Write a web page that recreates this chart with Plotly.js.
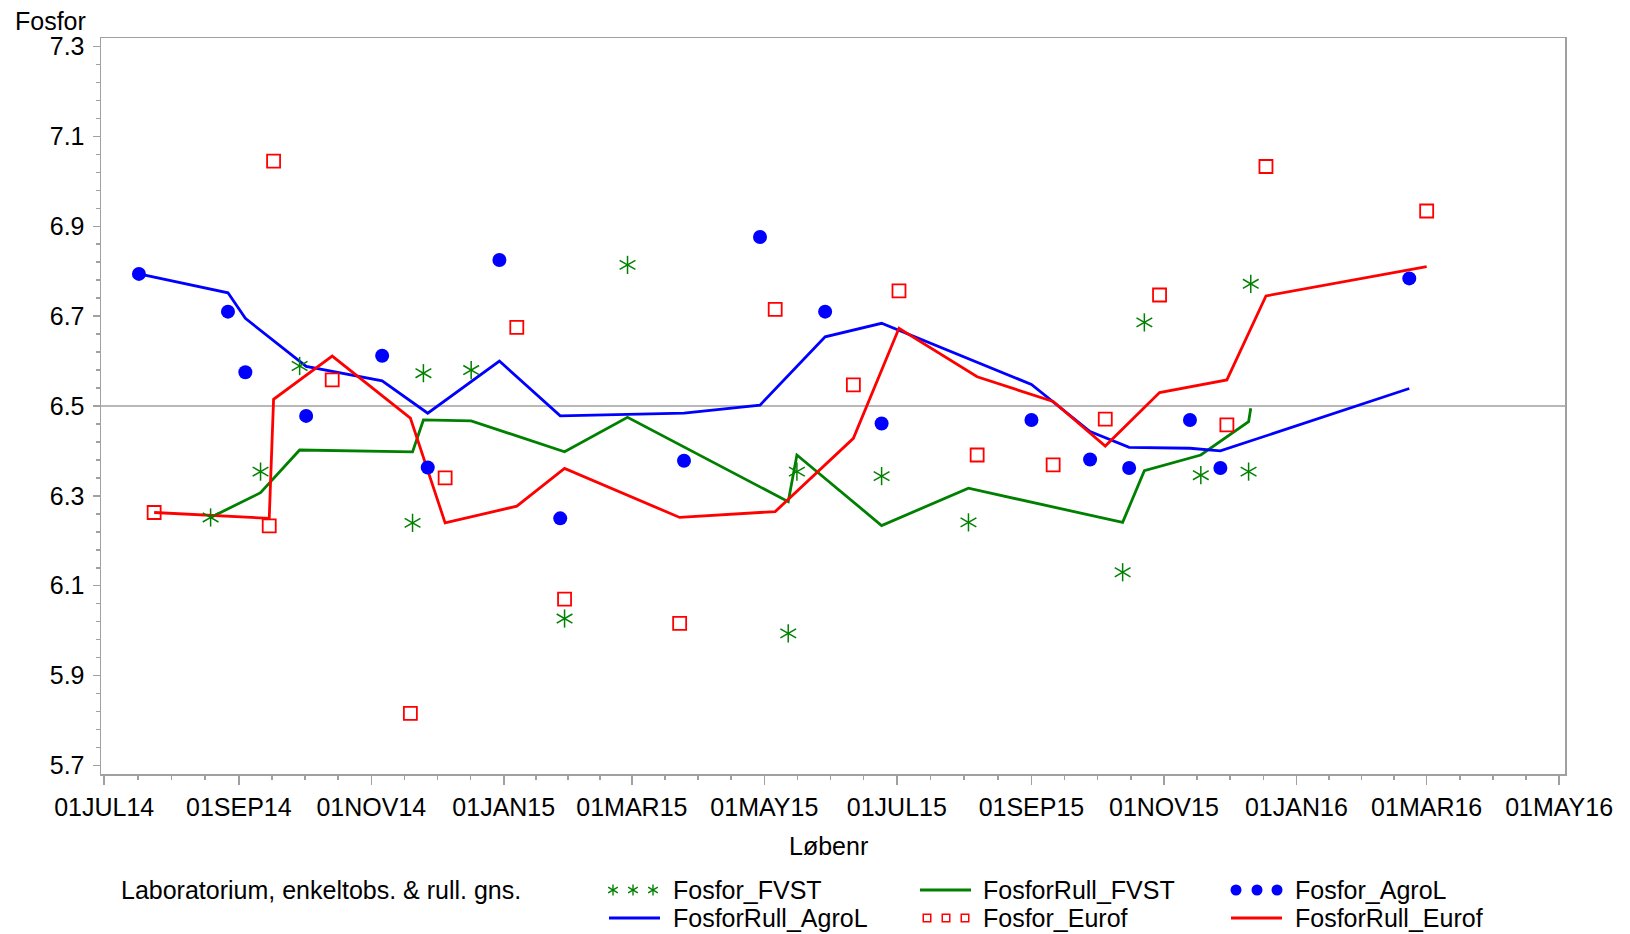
<!DOCTYPE html>
<html><head><meta charset="utf-8">
<script src="https://cdn.plot.ly/plotly-3.0.1.min.js"></script>
<style>html,body{margin:0;padding:0;background:#fff}#chart{width:1630px;height:934px}</style>
</head><body><div id="chart"></div>
<script>
// ---------- data ----------
const agroDates = ['2014-07-17','2014-08-27','2014-09-04','2014-10-02','2014-11-06','2014-11-27','2014-12-30','2015-01-27','2015-03-25','2015-04-29','2015-05-29','2015-06-24','2015-09-01','2015-09-28','2015-10-16','2015-11-13','2015-11-27','2016-02-22'];
const fosforAgroL = [6.794,6.710,6.575,6.478,6.612,6.363,6.825,6.250,6.378,6.876,6.710,6.461,6.469,6.381,6.362,6.469,6.362,6.784];
const fosforRullAgroL = [6.794,6.752,6.695,6.588,6.556,6.484,6.600,6.478,6.484,6.502,6.654,6.684,6.548,6.443,6.408,6.406,6.400,6.539];

const fvstDates = ['2014-08-19','2014-09-11','2014-09-29','2014-11-20','2014-11-25','2014-12-17','2015-01-29','2015-02-27','2015-05-12','2015-05-16','2015-06-24','2015-08-03','2015-10-13','2015-10-23','2015-11-18','2015-12-10','2015-12-11'];
const fosforFVST = [6.252,6.354,6.589,6.240,6.573,6.580,6.027,6.814,5.994,6.354,6.344,6.241,6.130,6.686,6.346,6.354,6.772];
const fosforRullFVST = [6.252,6.307,6.402,6.398,6.469,6.467,6.398,6.475,6.287,6.391,6.234,6.317,6.241,6.356,6.391,6.465,6.495];

const eurofDates = ['2014-07-24','2014-09-15','2014-09-17','2014-10-14','2014-11-19','2014-12-05','2015-01-07','2015-01-29','2015-03-23','2015-05-06','2015-06-11','2015-07-02','2015-08-07','2015-09-11','2015-10-05','2015-10-30','2015-11-30','2015-12-18','2016-03-01'];
const fosforEurof = [6.263,6.233,7.045,6.558,5.816,6.340,6.675,6.070,6.016,6.715,6.547,6.756,6.391,6.369,6.471,6.747,6.458,7.033,6.934];
const fosforRullEurof = [6.263,6.250,6.515,6.611,6.473,6.240,6.277,6.361,6.252,6.265,6.428,6.673,6.565,6.510,6.411,6.530,6.558,6.745,6.810];

const tickDates = ['2014-07-01','2014-09-01','2014-11-01','2015-01-01','2015-03-01','2015-05-01','2015-07-01','2015-09-01','2015-11-01','2016-01-01','2016-03-01','2016-05-01'];
const tickLabels = ['01JUL14','01SEP14','01NOV14','01JAN15','01MAR15','01MAY15','01JUL15','01SEP15','01NOV15','01JAN16','01MAR16','01MAY16'];
const yTicks = [5.7,5.9,6.1,6.3,6.5,6.7,6.9,7.1,7.3];
const refLevel = 6.5;

const legendTitle = 'Laboratorium, enkeltobs. & rull. gns.';
const seriesNames = ['Fosfor_FVST','FosforRull_FVST','Fosfor_AgroL','FosforRull_AgroL','Fosfor_Eurof','FosforRull_Eurof'];

// ---------- styling / layout ----------
const W = 1630, H = 934;
const frame = {l:101, r:1565, t:38, b:774};
const GREEN = '#008000', BLUE = '#0000ff', RED = '#ff0000', GRAY = '#a0a0a0';
const FONT = 'Liberation Sans, Arial, Helvetica, sans-serif';
const FS = 25;

// minor x ticks: 3 equally spaced between consecutive majors
const minorX = [];
for (let i = 0; i < tickDates.length - 1; i++) {
  const a = Date.parse(tickDates[i]), b = Date.parse(tickDates[i+1]);
  for (let k = 1; k <= 3; k++) minorX.push(new Date(a + (b - a) * k / 4).toISOString().slice(0,19).replace('T',' '));
}

function starTraces(x, y, size, xa, ya, lw) {
  const defs = [['line-ns-open',0],['line-ew-open',30],['line-ew-open',-30]];
  return defs.map(d => ({
    type:'scatter', mode:'markers', x:x, y:y, xaxis:xa, yaxis:ya, hoverinfo:'skip', showlegend:false,
    marker:{symbol:d[0], angle:d[1], size:size, color:GREEN, line:{color:GREEN, width:lw}}
  }));
}

const traces = [];
// rolling lines
traces.push({type:'scatter', mode:'lines', name:seriesNames[1], x:fvstDates, y:fosforRullFVST, line:{color:GREEN, width:2.8}});
traces.push({type:'scatter', mode:'lines', name:seriesNames[3], x:agroDates, y:fosforRullAgroL, line:{color:BLUE, width:2.8}});
traces.push({type:'scatter', mode:'lines', name:seriesNames[5], x:eurofDates, y:fosforRullEurof, line:{color:RED, width:2.8}});
// single observations
traces.push(...starTraces(fvstDates, fosforFVST, 13, 'x', 'y', 1.5));
traces.push({type:'scatter', mode:'markers', name:seriesNames[2], x:agroDates, y:fosforAgroL, marker:{symbol:'circle', size:14, color:BLUE}});
traces.push({type:'scatter', mode:'markers', name:seriesNames[4], x:eurofDates, y:fosforEurof, marker:{symbol:'square-open', size:13, color:RED, line:{color:RED, width:1.8}}});

// ---------- legend (drawn on a pixel-scaled helper axis below the plot) ----------
const row1 = 890, row2 = 918;
const legTop = 862;
const lx = [609, 920, 1231];           // swatch start x for the three columns
const swW = 51;                         // swatch width
const textX = [671, 981, 1293];
const trio = (x0, a, b, c) => [x0 + a, x0 + b, x0 + c];
const legRows = [
  {col:0, row:row1, kind:'star'}, {col:1, row:row1, kind:'line', color:GREEN}, {col:2, row:row1, kind:'dot'},
  {col:0, row:row2, kind:'line', color:BLUE}, {col:1, row:row2, kind:'square'}, {col:2, row:row2, kind:'line', color:RED}
];
const shapes = [{type:'line', xref:'x domain', x0:0, x1:1, yref:'y', y0:refLevel, y1:refLevel, line:{color:GRAY, width:1.5}, layer:'below'}];
const annotations = [
  {text:'Fosfor', xref:'paper', yref:'paper', x:13/W, y:1-21/H, xanchor:'left', yanchor:'middle', showarrow:false, font:{size:FS}},
  {text:'Løbenr', xref:'paper', yref:'paper', x:829/W, y:1-846/H, xanchor:'center', yanchor:'middle', showarrow:false, font:{size:FS}},
  {text:legendTitle, xref:'paper', yref:'paper', x:119/W, y:1-row1/H, xanchor:'left', yanchor:'middle', showarrow:false, font:{size:FS}}
];
legRows.forEach((e, i) => {
  const x0 = lx[e.col];
  annotations.push({text:seriesNames[i], xref:'paper', yref:'paper', x:textX[e.col]/W, y:1-e.row/H, xanchor:'left', yanchor:'middle', showarrow:false, font:{size:FS}});
  const ys = [e.row, e.row, e.row];
  if (e.kind === 'line') {
    shapes.push({type:'line', xref:'x2', yref:'y2', x0:x0, x1:x0+swW, y0:e.row, y1:e.row, line:{color:e.color, width:3.2}});
  } else if (e.kind === 'star') {
    traces.push(...starTraces(trio(x0, 4, 24, 44), ys, 8, 'x2', 'y2', 1.4));
  } else if (e.kind === 'dot') {
    traces.push({type:'scatter', mode:'markers', x:trio(x0, 5, 26, 46), y:ys, xaxis:'x2', yaxis:'y2', hoverinfo:'skip', showlegend:false, marker:{symbol:'circle', size:11, color:BLUE}});
  } else if (e.kind === 'square') {
    traces.push({type:'scatter', mode:'markers', x:trio(x0, 7, 26, 45), y:ys, xaxis:'x2', yaxis:'y2', hoverinfo:'skip', showlegend:false, marker:{symbol:'square-open', size:7.5, color:RED, line:{color:RED, width:1.5}}});
  }
});

const layout = {
  width:W, height:H, margin:{l:0, r:0, t:0, b:0},
  paper_bgcolor:'#ffffff', plot_bgcolor:'rgba(0,0,0,0)', showlegend:false,
  font:{family:FONT, size:FS, color:'#000000'},
  xaxis:{
    type:'date', domain:[frame.l/W, frame.r/W], anchor:'y',
    range:['2014-06-29 12:40', '2016-05-03 17:00'],
    tickmode:'array', tickvals:tickDates, ticktext:tickLabels,
    ticks:'outside', ticklen:9, tickwidth:1.5, tickcolor:GRAY, ticklabelstandoff:1,
    showline:true, mirror:true, linecolor:GRAY, linewidth:1.5,
    showgrid:false, zeroline:false, tickfont:{size:FS, color:'#000'},
    minor:{tickmode:'array', tickvals:minorX, ticks:'outside', ticklen:4, tickwidth:1.5, tickcolor:GRAY, showgrid:false}
  },
  yaxis:{
    domain:[1-frame.b/H, 1-frame.t/H], anchor:'x',
    range:[5.681, 7.319],
    tickmode:'array', tickvals:yTicks, ticktext:yTicks.map(v => v.toFixed(1)),
    ticks:'outside', ticklen:7, tickwidth:1.5, tickcolor:GRAY, ticklabelstandoff:3,
    showline:true, mirror:true, linecolor:GRAY, linewidth:1.5,
    showgrid:false, zeroline:false, tickfont:{size:FS, color:'#000'},
    minor:{tick0:5.7, dtick:0.04, ticks:'outside', ticklen:4, tickwidth:1.5, tickcolor:GRAY, showgrid:false}
  },
  xaxis2:{domain:[0,1], range:[0,W], anchor:'y2', visible:false, fixedrange:true},
  yaxis2:{domain:[0,(H-legTop)/H], range:[H, legTop], anchor:'x2', visible:false, fixedrange:true},
  shapes:shapes, annotations:annotations
};

Plotly.newPlot('chart', traces, layout, {displayModeBar:false, staticPlot:true});
</script>
</body></html>
